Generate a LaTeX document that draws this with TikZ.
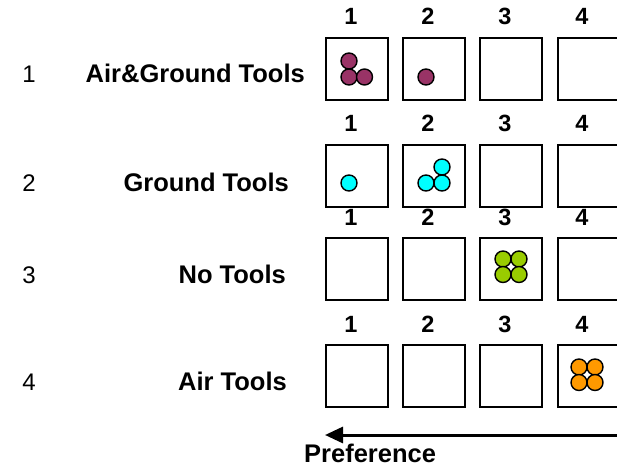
\documentclass[tikz,border=0pt]{standalone}
\usepackage{fontspec}
\setmainfont{Liberation Sans}
\usetikzlibrary{arrows.meta}
\definecolor{cmaroon}{HTML}{993366}
\definecolor{ccyan}{HTML}{00FFFF}
\definecolor{cgreen}{HTML}{99CC00}
\definecolor{corange}{HTML}{FF9900}
\tikzset{
  cell/.style={draw=black, line width=2pt, minimum width=62pt, minimum height=62pt, inner sep=0pt, anchor=north west, fill=white},
  dot/.style={circle, draw=black, line width=1.4pt, minimum size=16pt, inner sep=0pt},
  rowname/.style={font=\bfseries\fontsize{25.5}{30}\selectfont, anchor=base east, inner sep=0pt},
  rownum/.style={font=\fontsize{24}{28}\selectfont, anchor=base, inner sep=0pt},
  colnum/.style={font=\bfseries\fontsize{23.5}{28}\selectfont, anchor=base, inner sep=0pt},
}
\begin{document}
\begin{tikzpicture}[x=1pt,y=-1pt]
\useasboundingbox (0,0) rectangle (617,470);
\clip (0,0) rectangle (617,470);
% rows
\foreach \r/\top/\base/\num in {1/37/83/1, 2/144/192/2, 3/237/283/3, 4/344/390/4}{
  \foreach \c in {1,2,3,4}{
    \node[cell] (b\r\c) at ({325+77.2*(\c-1)},\top) {};
    \node[colnum] (l\r\c) at ({351+77*(\c-1)},\top-12) {\c};
  }
  \node[rownum] (n\r) at (29,\base) {\num};
}
\node[rowname] (t1) at (305,83) {Air\&Ground Tools};
\node[rowname] (t2) at (289,192) {Ground Tools};
\node[rowname] (t3) at (286,283) {No Tools};
\node[rowname] (t4) at (287,390) {Air Tools};
% dots
\node[dot, fill=cmaroon] (m1) at (349,61) {};
\node[dot, fill=cmaroon] (m2) at (349,77) {};
\node[dot, fill=cmaroon] (m3) at (364.5,77) {};
\node[dot, fill=cmaroon] (m4) at (426,77) {};
\node[dot, fill=ccyan] (c1) at (349,183) {};
\node[dot, fill=ccyan] (c2) at (426,183) {};
\node[dot, fill=ccyan] (c3) at (442,183) {};
\node[dot, fill=ccyan] (c4) at (442,167) {};
\node[dot, fill=cgreen] (g1) at (503,259) {};
\node[dot, fill=cgreen] (g2) at (519,259) {};
\node[dot, fill=cgreen] (g3) at (503,274.5) {};
\node[dot, fill=cgreen] (g4) at (519,274.5) {};
\node[dot, fill=corange] (o1) at (579,367) {};
\node[dot, fill=corange] (o2) at (595,367) {};
\node[dot, fill=corange] (o3) at (579,382.5) {};
\node[dot, fill=corange] (o4) at (595,382.5) {};
% arrow
\coordinate (as) at (620,435);
\coordinate (ae) at (325,435);
\draw[line width=3pt, -{Triangle[length=18pt,width=16pt]}] (as) -- (ae);
\node[font=\bfseries\fontsize{25.5}{30}\selectfont, anchor=base west, inner sep=0pt] (pref) at (304,462) {Preference};
\end{tikzpicture}
\end{document}
